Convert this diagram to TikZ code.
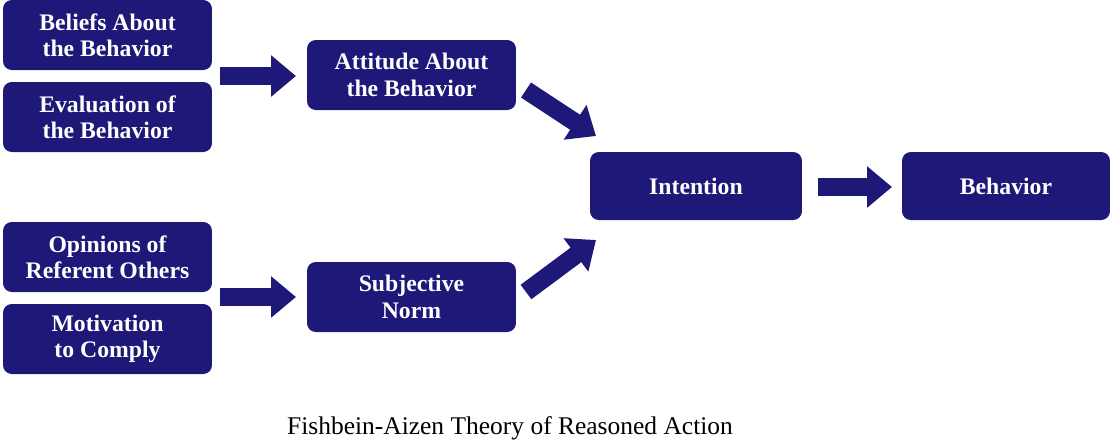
\documentclass[tikz,border=0pt]{standalone}
\usepackage{fontspec}
\setmainfont{Liberation Serif}
\usetikzlibrary{arrows.meta}
\definecolor{navy}{HTML}{1E1878}
\begin{document}
\begin{tikzpicture}[x=0.02cm,y=-0.02cm,
  box/.style={fill=navy,rounded corners=5pt,text=white,font=\bfseries\fontsize{13.5}{15}\selectfont,align=center,minimum width=4.18cm,minimum height=1.4cm,inner sep=0pt},
  blk/.style={navy,line width=0.36cm,-{Triangle[width=0.8cm,length=0.5cm]}}]
\useasboundingbox (0,0) rectangle (1110,441);
\node[box] (b) at (107.5,35) {Beliefs About\\the Behavior};
\node[box] (e) at (107.5,117) {Evaluation of\\the Behavior};
\node[box] (o) at (107.5,257) {Opinions of\\Referent Others};
\node[box] (m) at (107.5,339) {Motivation\\to Comply};
\node[box] (a) at (411.5,75) {Attitude About\\the Behavior};
\node[box] (s) at (411.5,297) {Subjective\\Norm};
\node[box,minimum width=4.24cm,minimum height=1.36cm] (i) at (696,186) {Intention};
\node[box,minimum width=4.16cm,minimum height=1.36cm] (bh) at (1006,186) {Behavior};
\coordinate (a1s) at (220,76); \coordinate (a1e) at (296,76);
\coordinate (a2s) at (220,297); \coordinate (a2e) at (296,297);
\coordinate (a3s) at (526,90); \coordinate (a3e) at (596,136);
\coordinate (a4s) at (526,292); \coordinate (a4e) at (596,240);
\coordinate (a5s) at (818,187); \coordinate (a5e) at (892,187);
\draw[blk] (a1s) -- (a1e);
\draw[blk] (a2s) -- (a2e);
\draw[blk] (a3s) -- (a3e);
\draw[blk] (a4s) -- (a4e);
\draw[blk] (a5s) -- (a5e);
\node[font=\fontsize{14.5}{16}\selectfont] (cap) at (510,428) {Fishbein-Aizen Theory of Reasoned Action};
\end{tikzpicture}
\end{document}
